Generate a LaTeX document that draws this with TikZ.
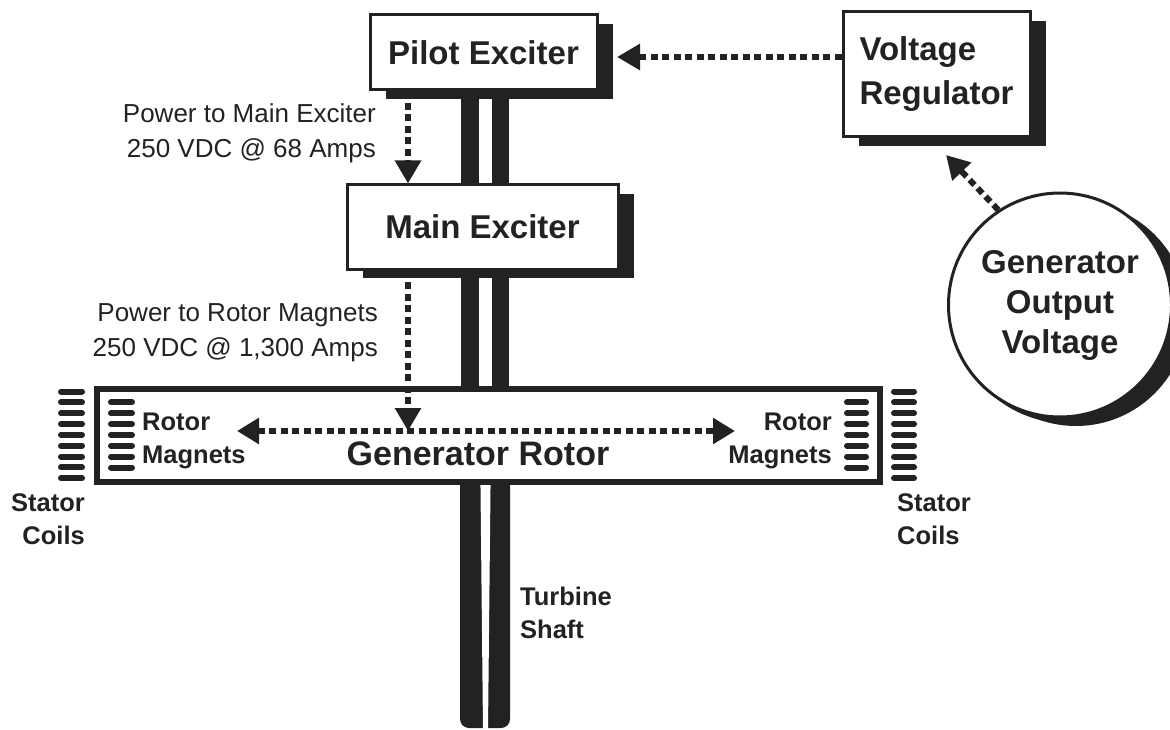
\documentclass[tikz,border=0pt]{standalone}
\usepackage{fontspec}
\setmainfont{Liberation Sans}
\usetikzlibrary{arrows.meta,shapes.geometric,shadows,calc}
\definecolor{ink}{HTML}{222222}
\newcommand{\myfs}[2]{\fontsize{#1pt}{#2pt}\selectfont}
\begin{document}
\begin{tikzpicture}[x=1pt,y=-1pt,
  box/.style={draw=ink,line width=3pt,fill=white,inner sep=0pt,text=ink,
    font=\bfseries\myfs{33}{44},
    drop shadow={shadow xshift=16pt,shadow yshift=-9pt,opacity=1,fill=ink}},
  flow/.style={draw=ink,line width=6pt,dash pattern=on 7pt off 4.5pt,
    -{Triangle[length=23pt,width=25pt]}},
  flowboth/.style={draw=ink,line width=6pt,dash pattern=on 7pt off 4.5pt,
    {Triangle[length=22pt,width=25pt]}-{Triangle[length=22pt,width=25pt]}},
  lab/.style={inner sep=0pt,text=ink,font=\myfs{26}{35}},
  blab/.style={inner sep=0pt,text=ink,font=\bfseries\myfs{25.5}{33}},
  bar/.style={draw=ink,line width=6pt,line cap=round},
  shaft/.style={fill=ink}
]
\useasboundingbox (0,0) rectangle (1170,730);

% shaft segments
\fill[shaft] (461,92) rectangle (479,186);
\fill[shaft] (492,92) rectangle (509,186);
\fill[shaft] (461,268) rectangle (479,386);
\fill[shaft] (492,268) rectangle (509,386);
\fill[shaft,rounded corners=9pt] (460,440) -- (460,728) -- (510,728) -- (510,440) -- cycle;
\fill[white] (480,440) -- (491,440) -- (488,730) -- (483,730) -- cycle;

% boxes
\node[box,minimum width=227pt,minimum height=75pt] (pilot) at (483.5,52.5) {Pilot Exciter};
\node[box,minimum width=271pt,minimum height=84pt] (main) at (482.5,227) {Main Exciter};
\node[box,minimum width=187pt,minimum height=125pt,align=left] (vr) at (936.5,74.5) {Voltage\\Regulator};
\node[box,ellipse,minimum width=204pt,minimum height=224pt,align=center,
  font=\bfseries\myfs{33}{40},
  drop shadow={shadow xshift=6pt,shadow yshift=-6pt,opacity=1,fill=ink}] (gov) at (1060,305) {Generator\\Output\\Voltage};

% generator rotor
\node[draw=ink,line width=6pt,fill=white,minimum width=783.5pt,minimum height=93pt,inner sep=0pt] (rotor) at (488.25,435) {};
\node[inner sep=0pt,text=ink,font=\bfseries\myfs{34}{40},anchor=base] (gr) at (478,465) {Generator Rotor};

% magnets and stator coils
\foreach \i in {0,...,8} {
  \draw[bar] (61,{391.5+10.85*\i}) -- (82,{391.5+10.85*\i});
  \draw[bar] (894,{391.5+10.85*\i}) -- (914,{391.5+10.85*\i});
}
\foreach \i in {0,...,6} {
  \draw[bar] (111,{402.4+10.85*\i}) -- (132,{402.4+10.85*\i});
  \draw[bar] (847,{402.4+10.85*\i}) -- (866,{402.4+10.85*\i});
}

% coordinates for free ends
\coordinate (ax) at (408,0);
\coordinate (hub) at (408,431);
\coordinate (lm) at (237,431);
\coordinate (rm) at (735,431);
\coordinate (pe) at (617,57);
\coordinate (vrtip) at (946,155);

% flows
\draw[flow] (pilot.south -| ax) -- (main.north -| ax);
\draw[flow] (main.south -| ax) -- (hub);
\draw[flowboth] (lm) -- (rm);
\draw[flow] (vr.west |- pe) -- (pe);
\draw[flow] (gov.123) -- (vrtip);

% labels
\node[lab,anchor=north east,align=right] (t1) at (376,103) {Power to Main Exciter\\250 VDC @ 68 Amps};
\node[lab,anchor=north east,align=right] (t2) at (378,303) {Power to Rotor Magnets\\250 VDC @ 1,300 Amps};
\node[blab,anchor=north west,align=left] (rml) at (142,413) {Rotor\\Magnets};
\node[blab,anchor=north east,align=right] (rmr) at (832,413) {Rotor\\Magnets};
\node[blab,anchor=north east,align=right] (scl) at (85,493) {Stator\\Coils};
\node[blab,anchor=north west,align=left] (scr) at (897,493) {Stator\\Coils};
\node[blab,anchor=north west,align=left] (ts) at (520,587) {Turbine\\Shaft};
\end{tikzpicture}
\end{document}
